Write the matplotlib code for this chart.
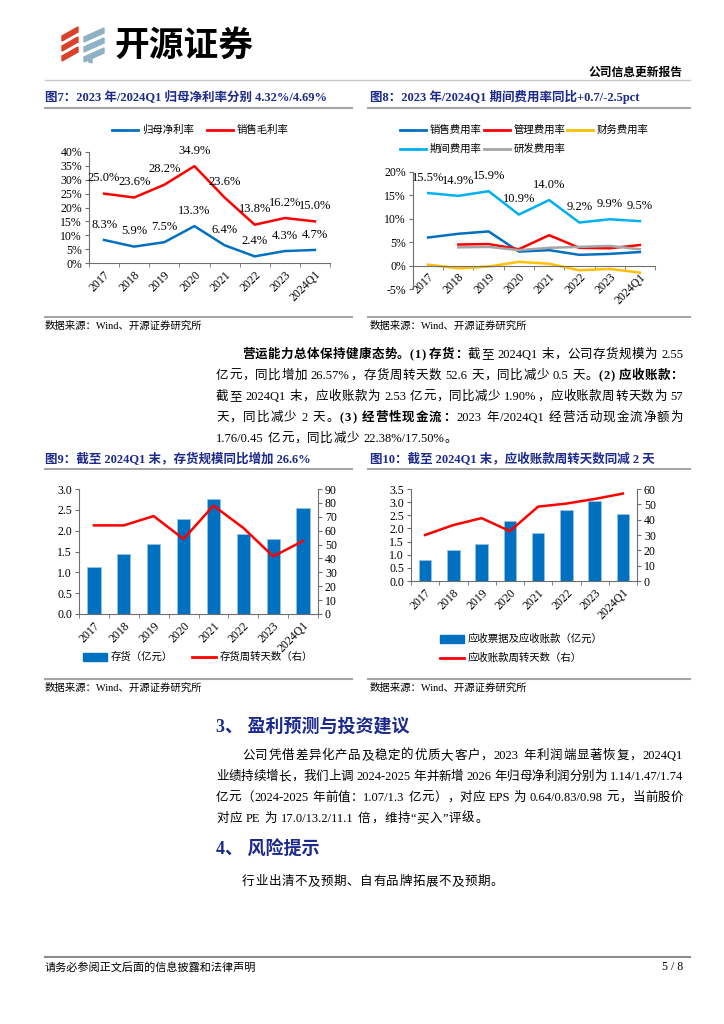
import re
import numpy as np
import matplotlib
matplotlib.use('Agg')
import matplotlib.pyplot as plt
from matplotlib.patches import Polygon, Rectangle
from matplotlib.lines import Line2D

W, H = 724, 1024
plt.rcParams['font.family'] = ['Liberation Serif', 'Noto Sans CJK SC']
plt.rcParams['axes.unicode_minus'] = False

# ---- data ----
years = ['2017', '2018', '2019', '2020', '2021', '2022', '2023', '2024Q1']

net_margin = [8.3, 5.9, 7.5, 13.3, 6.4, 2.4, 4.3, 4.7]
gross_margin = [25.0, 23.6, 28.2, 34.9, 23.6, 13.8, 16.2, 15.0]

sales_exp = [6.0, 6.8, 7.3, 3.0, 3.3, 2.3, 2.5, 2.9]
admin_exp = [np.nan, 4.5, 4.6, 3.5, 6.5, 3.8, 3.7, 4.4]
fin_exp = [0.2, -0.6, -0.2, 0.8, 0.4, -1.0, -0.7, -1.5]
period_exp = [15.5, 14.9, 15.9, 10.9, 14.0, 9.2, 9.9, 9.5]
rd_exp = [np.nan, 3.9, 4.0, 3.3, 3.8, 4.0, 4.2, 3.5]

inventory = [1.12, 1.43, 1.68, 2.28, 2.76, 1.92, 1.79, 2.55]
inv_days = [63.8, 63.8, 70.5, 54.0, 78.0, 62.0, 41.5, 52.6]

receivable = [0.79, 1.18, 1.39, 2.30, 1.81, 2.70, 3.04, 2.53]
rec_days = [30.0, 36.5, 41.0, 32.5, 48.5, 50.5, 53.5, 57.0]

NAVY = '#1c2a8c'
BLUE = '#0070C0'
RED = '#FF0000'
SPINE = '#6f6f6f'

fig = plt.figure(figsize=(7.24, 10.24), dpi=100)


def fx(x):
    return x / W


def fy(y):
    return 1 - y / H


def add_ax(l, t, r, b):
    return fig.add_axes([l / W, 1 - b / H, (r - l) / W, (b - t) / H])


def hline(x0, x1, y, color='#a6a6a6', lw=1.5):
    fig.add_artist(Line2D([fx(x0), fx(x1)], [fy(y), fy(y)], color=color, lw=lw))


def leg_item(x, y, label, color, kind='line', length=26):
    if kind == 'line':
        fig.add_artist(Line2D([fx(x), fx(x + length)], [fy(y), fy(y)], color=color, lw=2))
    else:
        fig.add_artist(Rectangle((fx(x), fy(y + 4)), length / W, 8 / H, color=color))
    fig.text(fx(x + length + 4), fy(y), label, fontsize=7.5, va='center')


def style_cat_axis(ax):
    x = np.arange(len(years))
    ax.set_xlim(-0.5, len(years) - 0.5)
    ax.set_xticks(x)
    ax.set_xticklabels(years, rotation=45, ha='right', va='top', rotation_mode='anchor', fontsize=8.5)
    ax.set_xticks(np.arange(-0.5, len(years)), minor=True)
    ax.tick_params(axis='x', which='major', length=0, pad=4)
    ax.tick_params(axis='x', which='minor', length=3, color=SPINE)
    ax.tick_params(axis='y', length=3, color=SPINE, labelsize=8.5, pad=2)
    for s in ['top', 'right']:
        ax.spines[s].set_visible(False)
    for s in ['left', 'bottom']:
        ax.spines[s].set_color(SPINE)
        ax.spines[s].set_linewidth(0.8)


def label_points(ax, vals, color='black'):
    for i, v in enumerate(vals):
        ax.annotate(f'{v:.1f}%', (i, v), xytext=(0, 11), textcoords='offset points',
                    ha='center', va='center', fontsize=9, color=color)


# ---- page header ----
for y0 in [27, 37, 47]:
    fig.add_artist(Polygon([(fx(62), fy(y0 + 9)), (fx(78), fy(y0)), (fx(78), fy(y0 + 5)), (fx(62), fy(y0 + 14))],
                           closed=True, color='#d9412b'))
for y0 in [28, 38, 48]:
    fig.add_artist(Polygon([(fx(84), fy(y0 + 9)), (fx(104), fy(y0)), (fx(104), fy(y0 + 5)), (fx(84), fy(y0 + 14))],
                           closed=True, color='#8fb1c5'))
fig.add_artist(Polygon([(fx(88), fy(58)), (fx(92), fy(58)), (fx(92), fy(63)), (fx(89), fy(62))],
                       closed=True, color='#8fb1c5'))
fig.text(fx(114), fy(45), '开源证券', fontsize=25, fontweight='bold', va='center',
         family=['Noto Sans CJK SC'])
fig.text(fx(683), fy(73), '公司信息更新报告', fontsize=8.5, fontweight='bold', ha='right', va='center')
hline(45, 690, 80, color='#c8c8c8', lw=1)

# ---- chart titles ----
fig.text(fx(45), fy(97), '图7：2023 年/2024Q1 归母净利率分别 4.32%/4.69%', fontsize=9,
         fontweight='bold', color=NAVY, va='center')
fig.text(fx(370), fy(97), '图8：2023 年/2024Q1 期间费用率同比+0.7/-2.5pct', fontsize=9,
         fontweight='bold', color=NAVY, va='center')
hline(45, 352, 108)
hline(368, 690, 108)

# ---- chart 7 ----
ax = add_ax(89, 152, 330, 263)
xs = np.arange(len(years))
ax.plot(xs, net_margin, color=BLUE, lw=1.8)
ax.plot(xs, gross_margin, color=RED, lw=1.8)
ax.set_ylim(0, 40)
ax.set_yticks(range(0, 41, 5))
ax.set_yticklabels([f'{v}%' for v in range(0, 41, 5)])
style_cat_axis(ax)
label_points(ax, net_margin)
label_points(ax, gross_margin)
leg_item(112, 130, '归母净利率', BLUE)
leg_item(207, 130, '销售毛利率', RED)

# ---- chart 8 ----
ax = add_ax(413, 172, 655, 289)
ax.spines['bottom'].set_position(('data', 0))
ax.plot(xs, sales_exp, color=BLUE, lw=1.8)
ax.plot(xs, admin_exp, color=RED, lw=1.8)
ax.plot(xs, fin_exp, color='#FFC000', lw=1.8)
ax.plot(xs, period_exp, color='#00B0F0', lw=1.8)
ax.plot(xs, rd_exp, color='#A5A5A5', lw=1.8)
ax.set_ylim(-5, 20)
ax.set_yticks(range(-5, 21, 5))
ax.set_yticklabels([f'{v}%' for v in range(-5, 21, 5)])
style_cat_axis(ax)
label_points(ax, period_exp)
leg_item(400, 130, '销售费用率', BLUE)
leg_item(484, 130, '管理费用率', RED)
leg_item(567, 130, '财务费用率', '#FFC000')
leg_item(400, 149, '期间费用率', '#00B0F0')
leg_item(484, 149, '研发费用率', '#A5A5A5')

# sources top
hline(45, 352, 317)
hline(368, 690, 317)
fig.text(fx(45), fy(326), '数据来源：Wind、开源证券研究所', fontsize=7.5, va='center')
fig.text(fx(370), fy(326), '数据来源：Wind、开源证券研究所', fontsize=7.5, va='center')


# ---- justified body text ----
def draw_line(x0, x1, y, segs, size=9, justify=True, color='black'):
    toks = []
    for s, b in segs:
        for m in re.finditer(r'[A-Za-z0-9.%/\-]+| |.', s):
            toks.append((m.group(), b))
    arts = []
    for t, b in toks:
        if t == ' ':
            arts.append(None)
            continue
        arts.append(fig.text(0, fy(y), t, fontsize=size, fontweight='bold' if b else 'normal',
                             va='center', color=color))
    r = fig.canvas.get_renderer()
    widths = [a.get_window_extent(r).width if a is not None else 3.0 for a in arts]
    gap = (x1 - x0 - sum(widths)) / max(len(toks) - 1, 1) if justify else 0.6
    x = x0
    for a, w in zip(arts, widths):
        if a is not None:
            a.set_x(fx(x))
        x += w + gap


para1 = [
    (242, 355, [('营运能力总体保持健康态势。(1) 存货：', True), ('截至 2024Q1 末，公司存货规模为 2.55', False)], True),
    (216, 376, [('亿元，同比增加 26.57%，存货周转天数 52.6 天，同比减少 0.5 天。', False), ('(2) 应收账款：', True)], True),
    (216, 397, [('截至 2024Q1 末，应收账款为 2.53 亿元，同比减少 1.90%，应收账款周转天数为 57', False)], True),
    (216, 418, [('天，同比减少 2 天。', False), ('(3) 经营性现金流：', True), ('2023 年/2024Q1 经营活动现金流净额为', False)], True),
    (216, 439, [('1.76/0.45 亿元，同比减少 22.38%/17.50%。', False)], False),
]
for x0, y, segs, j in para1:
    draw_line(x0, 683, y, segs, justify=j)

# ---- chart 9 / 10 titles ----
fig.text(fx(45), fy(460), '图9：截至 2024Q1 末，存货规模同比增加 26.6%', fontsize=9,
         fontweight='bold', color=NAVY, va='center')
fig.text(fx(370), fy(460), '图10：截至 2024Q1 末，应收账款周转天数同减 2 天', fontsize=9,
         fontweight='bold', color=NAVY, va='center')
hline(45, 352, 469)
hline(368, 690, 469)


def bar_line(ax, bars, line, ymax, ystep, y2max, y2step):
    ax.bar(xs, bars, width=0.44, color=BLUE, edgecolor='#9dc3e6', lw=0.5)
    ax.set_ylim(0, ymax)
    ax.set_yticks(np.arange(0, ymax + 0.01, ystep))
    ax.set_yticklabels([f'{v:.1f}' for v in np.arange(0, ymax + 0.01, ystep)])
    style_cat_axis(ax)
    ax2 = ax.twinx()
    ax2.plot(xs, line, color=RED, lw=1.8)
    ax2.set_ylim(0, y2max)
    ax2.set_yticks(range(0, y2max + 1, y2step))
    ax2.tick_params(axis='y', length=3, color=SPINE, labelsize=8.5, pad=2)
    for s in ['top', 'left', 'bottom']:
        ax2.spines[s].set_visible(False)
    ax2.spines['right'].set_color(SPINE)
    ax2.spines['right'].set_linewidth(0.8)


ax = add_ax(79, 489, 318, 614)
bar_line(ax, inventory, inv_days, 3.0, 0.5, 90, 10)
leg_item(83, 657, '存货（亿元）', BLUE, kind='bar', length=24)
leg_item(192, 657, '存货周转天数（右）', RED, length=24)

ax = add_ax(411, 489, 637, 581)
bar_line(ax, receivable, rec_days, 3.5, 0.5, 60, 10)
leg_item(440, 639, '应收票据及应收账款（亿元）', BLUE, kind='bar', length=24)
leg_item(440, 658, '应收账款周转天数（右）', RED, length=24)

hline(45, 352, 679)
hline(368, 690, 679)
fig.text(fx(45), fy(688), '数据来源：Wind、开源证券研究所', fontsize=7.5, va='center')
fig.text(fx(370), fy(688), '数据来源：Wind、开源证券研究所', fontsize=7.5, va='center')

# ---- sections 3 / 4 ----
fig.text(fx(216), fy(727), '3、 盈利预测与投资建议', fontsize=13, fontweight='bold', color=NAVY, va='center')
para2 = [
    (242, 756, [('公司凭借差异化产品及稳定的优质大客户，2023 年利润端显著恢复，2024Q1', False)], True),
    (216, 777, [('业绩持续增长，我们上调 2024-2025 年并新增 2026 年归母净利润分别为 1.14/1.47/1.74', False)], True),
    (216, 798, [('亿元（2024-2025 年前值：1.07/1.3 亿元），对应 EPS 为 0.64/0.83/0.98 元，当前股价', False)], True),
    (216, 819, [('对应 PE 为 17.0/13.2/11.1 倍，维持“买入”评级。', False)], False),
]
for x0, y, segs, j in para2:
    draw_line(x0, 683, y, segs, justify=j)

fig.text(fx(216), fy(850), '4、 风险提示', fontsize=13, fontweight='bold', color=NAVY, va='center')
draw_line(242, 683, 882, [('行业出清不及预期、自有品牌拓展不及预期。', False)], justify=False)

# ---- footer ----
hline(45, 690, 957, color='#8c8c8c', lw=1.5)
fig.text(fx(45), fy(967), '请务必参阅正文后面的信息披露和法律声明', fontsize=8, va='center')
fig.text(fx(683), fy(967), '5 / 8', fontsize=8.5, ha='right', va='center')

fig.savefig('out.png', dpi=100)
